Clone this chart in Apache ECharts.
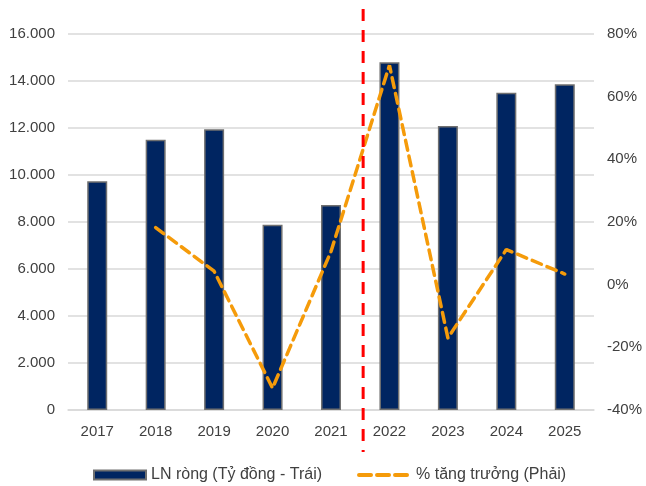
<!DOCTYPE html>
<html>
<head>
<meta charset="utf-8">
<script src="https://cdn.jsdelivr.net/npm/echarts@6/dist/echarts.min.js"></script>
<style>
  html, body { margin: 0; padding: 0; background: #ffffff; }
  #chart { width: 646px; height: 486px; }
</style>
</head>
<body>
<div id="chart"></div>
<script>
// Net profit (billion VND, left axis) and year-over-year growth (%, right axis)
const years = ['2017', '2018', '2019', '2020', '2021', '2022', '2023', '2024', '2025'];
const netProfit = [9730, 11500, 11950, 7880, 8720, 14800, 12080, 13500, 13860];
const growthPct = [null, 18.2, 4.3, -33, 10.6, 70, -17, 11.2, 3.4];

const profitName = 'LN ròng (Tỷ đồng - Trái)';
const growthName = '% tăng trưởng (Phải)';

// Divider between actual and forecast years, in category-index units
const dividerAt = 4.55;

const FONT = '"Liberation Sans", Arial, sans-serif';
const TEXT = '#404040';
const GRID = '#d9d9d9';
const ORANGE = '#F59B0A';

function thousands(v) {
  return String(v).replace(/\B(?=(\d{3})+(?!\d))/g, '.');
}

const chart = echarts.init(document.getElementById('chart'), null, { renderer: 'canvas' });

chart.setOption({
  animation: false,
  backgroundColor: '#ffffff',
  textStyle: { fontFamily: FONT },
  grid: { left: 68, right: 52, top: 34, bottom: 76, containLabel: false },
  legend: {
    top: 462,
    left: 88,
    itemWidth: 52,
    itemHeight: 9,
    itemGap: 35,
    textStyle: { fontFamily: FONT, fontSize: 16, color: TEXT },
    data: [
      { name: profitName, icon: 'rect' },
      {
        name: growthName,
        itemStyle: { opacity: 0 },
        lineStyle: { color: ORANGE, width: 4, type: [12, 6] }
      }
    ]
  },
  xAxis: [
    {
      type: 'category',
      data: years,
      axisLine: { lineStyle: { color: GRID, width: 1.5 } },
      axisTick: { show: false },
      axisLabel: { color: TEXT, fontSize: 15, margin: 14, fontFamily: FONT }
    },
    {
      // helper scale spanning the category bands, used to place the divider
      type: 'value',
      min: -0.5,
      max: years.length - 0.5,
      show: false
    }
  ],
  yAxis: [
    {
      type: 'value',
      min: 0,
      max: 16000,
      interval: 2000,
      axisLine: { show: false },
      axisTick: { show: false },
      splitLine: { lineStyle: { color: GRID, width: 1.5 } },
      axisLabel: { color: TEXT, fontSize: 15, margin: 13, fontFamily: FONT, formatter: thousands }
    },
    {
      type: 'value',
      min: -40,
      max: 80,
      interval: 20,
      axisLine: { show: false },
      axisTick: { show: false },
      splitLine: { show: false },
      axisLabel: { color: TEXT, fontSize: 15, margin: 13, fontFamily: FONT, formatter: v => v + '%' }
    }
  ],
  series: [
    {
      name: profitName,
      type: 'bar',
      data: netProfit,
      barWidth: 20,
      itemStyle: { color: '#002561', borderColor: '#707070', borderWidth: 1.5 }
    },
    {
      name: growthName,
      type: 'line',
      yAxisIndex: 1,
      data: growthPct,
      symbol: 'none',
      lineStyle: { color: ORANGE, width: 3.5, type: [10, 6], cap: 'round' },
      itemStyle: { color: ORANGE }
    }
  ]
});

// Vertical red dashed divider, positioned through the helper axis scale
const dividerX = chart.convertToPixel({ xAxisIndex: 1 }, dividerAt);
chart.setOption({
  graphic: [{
    type: 'line',
    shape: { x1: dividerX, y1: 9, x2: dividerX, y2: 452 },
    style: { stroke: '#ff0000', lineWidth: 3, lineDash: [12, 9] },
    z: 100
  }]
});
</script>
</body>
</html>
